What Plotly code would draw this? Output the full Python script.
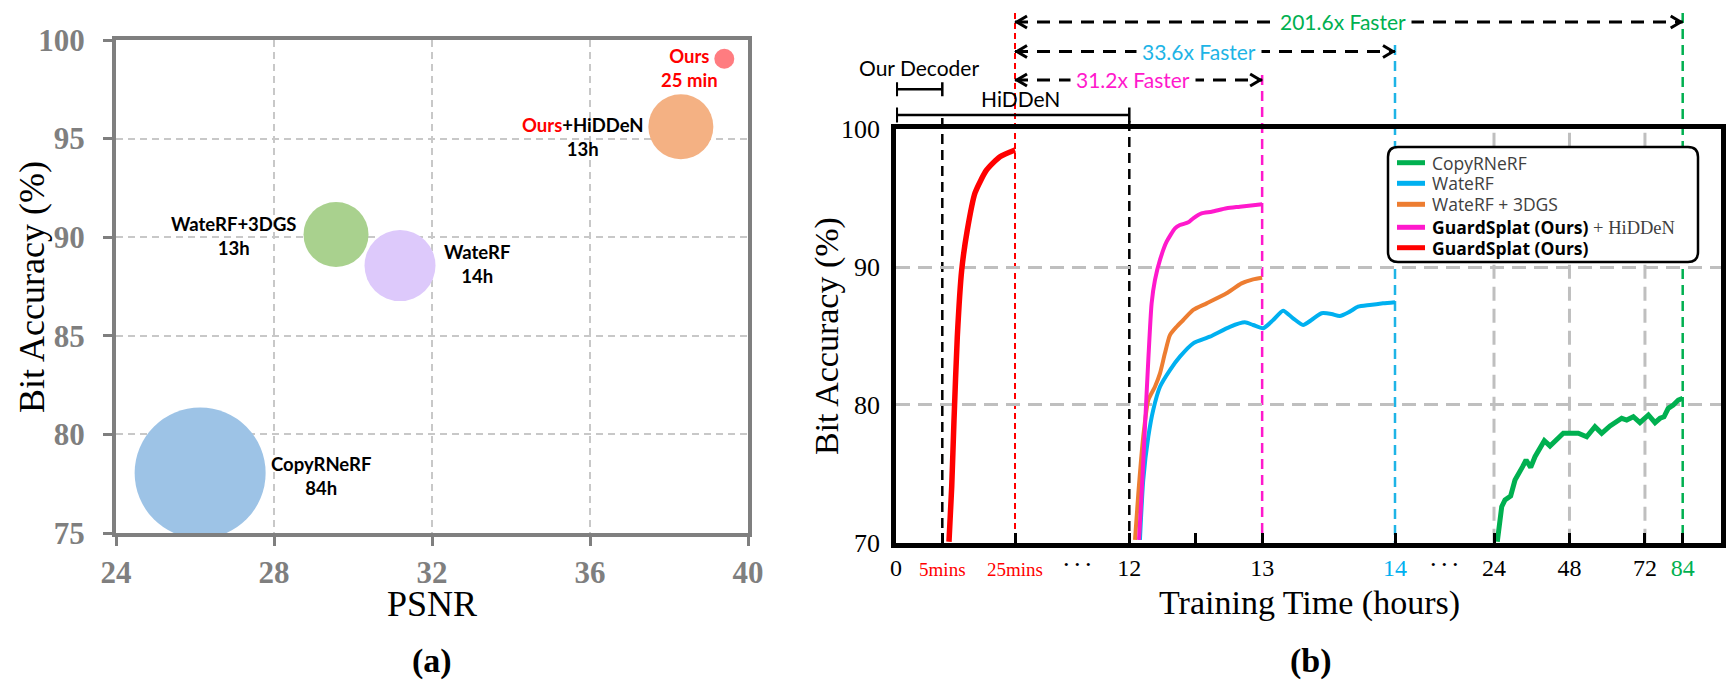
import numpy as np
import plotly.graph_objects as go

W, H = 1726, 695

# ============================ DATA: panel (a) ============================
A_NAMES = ["CopyRNeRF", "WateRF", "WateRF+3DGS", "Ours+HiDDeN", "Ours"]
A_PSNR = [26.13, 31.19, 29.57, 38.3, 39.4]
A_ACC = [78.04, 88.56, 90.14, 95.6, 99.05]
A_TIME = ["84h", "14h", "13h", "13h", "25 min"]
A_XTICKS = [24, 28, 32, 36, 40]
A_YTICKS = [75, 80, 85, 90, 95, 100]

# ============================ DATA: panel (b) (hours, %) =================
T_COPY = [25.05, 25.7, 26.45, 27.5, 29.3, 30.68, 31.7, 33.1, 34.2, 35.67, 37.04, 38.63,
          40.0, 41.8, 43.93, 46.04, 48.17, 50.8, 53.47, 56.1, 58.24, 60.9, 64.6, 66.2,
          68.3, 70.4, 73.1, 75.2, 76.8, 78.06, 79.4, 81.0, 82.6, 84.0]
ACC_COPY = [70.07, 71.4, 72.61, 73.1, 73.39, 74.55, 75.04, 75.52, 76.0, 75.47, 76.24, 76.92,
            77.4, 77.02, 77.45, 77.94, 77.94, 77.94, 77.69, 78.42, 77.94, 78.47, 79.03, 78.9,
            79.14, 78.71, 79.27, 78.71, 79.03, 79.14, 79.75, 79.99, 80.35, 80.48]

T_WRF = [12.08, 12.105, 12.143, 12.18, 12.231, 12.306, 12.381, 12.481, 12.607, 12.757, 12.87,
         12.932, 13.008, 13.083, 13.158, 13.233, 13.308, 13.371, 13.447, 13.522, 13.584,
         13.659, 13.722, 13.81, 13.91, 14.0]
ACC_WRF = [70.2, 74.55, 77.69, 79.63, 81.32, 82.53, 83.5, 84.47, 84.95, 85.67, 85.99,
           85.8, 85.56, 86.16, 86.84, 86.28, 85.8, 86.16, 86.65, 86.6, 86.45,
           86.77, 87.13, 87.25, 87.37, 87.45]

T_W3DGS = [12.043, 12.068, 12.105, 12.143, 12.193, 12.231, 12.268, 12.306, 12.356, 12.406,
           12.481, 12.582, 12.732, 12.845, 12.932, 13.0]
ACC_W3DGS = [70.2, 73.58, 77.69, 80.35, 81.32, 82.29, 83.74, 85.07, 85.67, 86.16,
             86.89, 87.37, 88.1, 88.82, 89.11, 89.23]

T_HID = [12.073, 12.093, 12.118, 12.143, 12.168, 12.193, 12.231, 12.281, 12.344, 12.381,
         12.444, 12.481, 12.544, 12.62, 12.732, 12.832, 13.0]
ACC_HID = [70.2, 73.58, 78.42, 83.26, 87.37, 89.06, 90.52, 91.84, 92.81, 93.05,
           93.25, 93.54, 93.9, 94.02, 94.27, 94.38, 94.56]

T_OURS_MIN = [6.84, 7.59, 8.22, 9.13, 10.34, 11.88, 14.0, 17.2, 20.87, 25.0]
ACC_OURS = [70.07, 74.06, 78.9, 84.95, 89.79, 92.69, 95.38, 97.05, 98.01, 98.5]

B_SERIES = ["CopyRNeRF", "WateRF", "WateRF + 3DGS", "GuardSplat (Ours) + HiDDeN", "GuardSplat (Ours)"]
B_TICK_HOURS = [0, 5 / 60, 25 / 60, 12, 12.5, 13, 14, 24, 48, 72, 84]
B_TICK_TEXT = ["0", "5mins", "25mins", "12", "", "13", "14", "24", "48", "72", "84"]
B_YTICKS = [70, 80, 90, 100]
B_GRID_HOURS = [24, 48, 72]
SPEEDUP_END_HOURS = [13, 14, 84]
SPEEDUP_TEXT = ["31.2x Faster", "33.6x Faster", "201.6x Faster"]
DECODER_END_HOURS = [5 / 60, 12]
DECODER_TEXT = ["Our Decoder", "HiDDeN"]

# ============================ STYLES =====================================
A_SIZES = [131, 71, 65, 65, 20]
A_COLORS = ["#9DC3E6", "#DDC9FB", "#A9D18E", "#F4B183", "#FF7C80"]
A_LABEL_SHIFT = [(121, -2.5), (77, 1.3), (-102, -1.1), (-98, -10.2), (-35, -9.3)]
B_COLORS = ["#00B050", "#00B0F0", "#ED7D31", "#FF19CC", "#FF0000"]
B_WIDTHS = [5, 4, 4, 4, 5.5]
TICK_COLORS = {"5mins": "#FF0000", "25mins": "#FF0000", "14": "#00B0F0", "84": "#00B050"}
SERIF = "Liberation Serif"
SANS = "Lato"
LEG_BOX = (1388, 147, 1698, 262)          # px: left, top, right, bottom
LEG_ROWS = [162.7, 183.3, 204.3, 227.3, 247.7]
LEG_LINE_X = (1397, 1425)
LEG_TEXT_X = 1430

# broken x axis of panel (b): hours -> axis units (piecewise linear)
AXIS_HOURS = [0, 5 / 60, 25 / 60, 12, 14, 24, 84]
AXIS_POS = [0, 46.3, 119, 233.3, 499, 598, 786.7]


def pos(t):
    return np.interp(t, AXIS_HOURS, AXIS_POS)


def pxx(x):
    return x / W


def pxy(y):
    return 1 - y / H


A_DOM_X = [pxx(116), pxx(748)]
A_DOM_Y = [pxy(533), pxy(40)]
B_DOM_X = [pxx(896), pxx(1721)]
B_DOM_Y = [pxy(542.7), pxy(129.3)]

fig = go.Figure()

# ------------------------------ panel (a) --------------------------------
for i in range(len(A_NAMES)):
    fig.add_trace(go.Scatter(
        x=[A_PSNR[i]], y=[A_ACC[i]], mode="markers", xaxis="x", yaxis="y", name=A_NAMES[i],
        marker=dict(size=A_SIZES[i], color=A_COLORS[i], line=dict(width=0), opacity=1),
        showlegend=False, hoverinfo="skip", cliponaxis=True))

annotations = []
for i, name in enumerate(A_NAMES):
    if name == "Ours":
        txt = "<span style='color:#FF0000'>%s<br>%s</span>" % (name, A_TIME[i])
    elif name.startswith("Ours+"):
        txt = "<span style='color:#FF0000'>Ours</span>%s<br>%s" % (name[4:], A_TIME[i])
    else:
        txt = "%s<br>%s" % (name, A_TIME[i])
    dx, dy = A_LABEL_SHIFT[i]
    annotations.append(dict(x=A_PSNR[i], y=A_ACC[i], xref="x", yref="y", text="<b>%s</b>" % txt,
                            showarrow=False, xshift=dx, yshift=dy, align="center",
                            xanchor="center", yanchor="middle",
                            font=dict(family=SANS, size=18.5, color="#000000")))

# ------------------------------ panel (b) --------------------------------
b_data = [(T_COPY, ACC_COPY), (T_WRF, ACC_WRF), (T_W3DGS, ACC_W3DGS), (T_HID, ACC_HID),
          ([m / 60 for m in T_OURS_MIN], ACC_OURS)]
for i, (t, a) in enumerate(b_data):
    fig.add_trace(go.Scatter(
        x=pos(np.array(t)), y=a, mode="lines", xaxis="x2", yaxis="y2", name=B_SERIES[i],
        line=dict(color=B_COLORS[i], width=B_WIDTHS[i],
                  shape="linear" if i == 0 else "spline", smoothing=0.6),
        showlegend=False, hoverinfo="skip"))

shapes = []
b_bottom = B_DOM_Y[0]

# vertical gray grid lines (24, 48, 72)
for t in B_GRID_HOURS:
    shapes.append(dict(type="line", xref="x2", yref="paper", x0=pos(t), x1=pos(t),
                       y0=B_DOM_Y[0], y1=B_DOM_Y[1], layer="between",
                       line=dict(color="#BFBFBF", width=3, dash="14px,8px")))

# coloured reference lines
ref_lines = [(25 / 60, "#FF0000", 13, 2, "6px,4px"),
             (SPEEDUP_END_HOURS[0], "#FF19CC", 75, 2.5, "10px,6px"),
             (SPEEDUP_END_HOURS[1], "#1EB4E6", 45, 2.5, "10px,6px"),
             (SPEEDUP_END_HOURS[2], "#00B050", 13, 2.5, "10px,6px"),
             (DECODER_END_HOURS[0], "#000000", 118, 2.5, "10px,6px"),
             (DECODER_END_HOURS[1], "#000000", 121, 2.5, "10px,6px")]
for t, c, top, w, d in ref_lines:
    shapes.append(dict(type="line", xref="x2", yref="paper", x0=pos(t), x1=pos(t),
                       y0=pxy(top), y1=b_bottom, layer="between",
                       line=dict(color=c, width=w, dash=d)))

# speed-up arrows
arrow_y = [80, 51.5, 22]
arrow_col = ["#FF19CC", "#1EB4E6", "#00B050"]
start = pos(25 / 60)
for k, t_end in enumerate(SPEEDUP_END_HOURS):
    yy = pxy(arrow_y[k])
    xe = pos(t_end)
    shapes.append(dict(type="line", xref="x2", yref="paper", x0=start, x1=xe, y0=yy, y1=yy,
                       line=dict(color="#000000", width=3, dash="13px,9px")))
    shapes.append(dict(type="path", xref="x2", yref="paper", xsizemode="pixel",
                       ysizemode="pixel", xanchor=start, yanchor=yy,
                       path="M 12,6 L 2,0 L 12,-6", line=dict(color="#000000", width=3)))
    shapes.append(dict(type="path", xref="x2", yref="paper", xsizemode="pixel",
                       ysizemode="pixel", xanchor=xe, yanchor=yy,
                       path="M -12,6 L -2,0 L -12,-6", line=dict(color="#000000", width=3)))
    annotations.append(dict(x=(start + xe) / 2, y=yy, xref="x2", yref="paper",
                            text=SPEEDUP_TEXT[k], showarrow=False, bgcolor="#FFFFFF",
                            borderpad=5, xshift=-6, xanchor="center", yanchor="middle",
                            font=dict(family=SANS, size=21, color=arrow_col[k])))

# decoder brackets
br_y = [89.3, 115]
br_h = [7, 7.5]
br_txt_y = [67, 99]
for k, t_end in enumerate(DECODER_END_HOURS):
    x0, x1 = pos(0), pos(t_end)
    ym = pxy(br_y[k])
    ya, yb = pxy(br_y[k] - br_h[k]), pxy(br_y[k] + br_h[k])
    path = "M %f,%f L %f,%f M %f,%f L %f,%f M %f,%f L %f,%f" % (
        x0 + 0.8, ya, x0 + 0.8, yb, x0, ym, x1, ym, x1, ya, x1, yb)
    shapes.append(dict(type="path", xref="x2", yref="paper", path=path,
                       line=dict(color="#000000", width=2.5)))
    annotations.append(dict(x=(x0 + x1) / 2, y=pxy(br_txt_y[k]), xref="x2", yref="paper",
                            text=DECODER_TEXT[k], showarrow=False, xshift=0 if k == 0 else 8,
                            xanchor="center", yanchor="middle",
                            font=dict(family=SANS, size=21, color="#000000")))

# "..." axis breaks
for ta, tb in [(25 / 60, 12), (14, 24)]:
    annotations.append(dict(x=(pos(ta) + pos(tb)) / 2 + (5 if ta < 1 else 0), y=pxy(564),
                            xref="x2", yref="paper", text="•  •  •", showarrow=False,
                            xanchor="center", yanchor="middle",
                            font=dict(family=SERIF, size=13, color="#000000")))

# ------------------------------ legend (rounded box) ---------------------
lx0, ly0, lx1, ly1 = LEG_BOX
r = 10
pts = [("M", lx0 + r, ly0), ("L", lx1 - r, ly0), ("Q", lx1, ly0, lx1, ly0 + r),
       ("L", lx1, ly1 - r), ("Q", lx1, ly1, lx1 - r, ly1), ("L", lx0 + r, ly1),
       ("Q", lx0, ly1, lx0, ly1 - r), ("L", lx0, ly0 + r), ("Q", lx0, ly0, lx0 + r, ly0)]
path = ""
for p in pts:
    cmd, coords = p[0], p[1:]
    path += cmd + " " + " ".join("%f,%f" % (pxx(coords[j]), pxy(coords[j + 1]))
                                 for j in range(0, len(coords), 2)) + " "
shapes.append(dict(type="path", xref="paper", yref="paper", path=path + "Z",
                   fillcolor="#FFFFFF", layer="above",
                   line=dict(color="#000000", width=2.5)))
for i, name in enumerate(B_SERIES):
    yy = pxy(LEG_ROWS[i])
    shapes.append(dict(type="line", xref="paper", yref="paper", x0=pxx(LEG_LINE_X[0]),
                       x1=pxx(LEG_LINE_X[1]), y0=yy, y1=yy, layer="above",
                       line=dict(color=B_COLORS[i], width=5)))
    if name.startswith("GuardSplat"):
        base = "GuardSplat (Ours)"
        txt = "<span style='color:#000000'><b>%s</b></span>" % base
        rest = name[len(base):]
        if rest:
            txt += "<span style='font-family:Liberation Serif;font-size:18.5px'>%s</span>" % rest
    else:
        txt = name
    annotations.append(dict(x=pxx(LEG_TEXT_X), y=yy, xref="paper", yref="paper", text=txt,
                            showarrow=False, xanchor="left", yanchor="middle",
                            font=dict(family="Open Sans", size=17.5, color="#404040")))

# axis titles / panel labels
titles = [
    (32, 287, "Bit Accuracy (%)", -90, 36),
    (432, 604, "PSNR", 0, 36),
    (432, 661, "<b>(a)</b>", 0, 34),
    (827, 336, "Bit Accuracy (%)", -90, 34),
    (1309, 603, "Training Time (hours)", 0, 34),
    (1311, 661, "<b>(b)</b>", 0, 34),
]
for x, y, txt, ang, sz in titles:
    annotations.append(dict(x=pxx(x), y=pxy(y), xref="paper", yref="paper", text=txt,
                            textangle=ang, showarrow=False, xanchor="center", yanchor="middle",
                            font=dict(family=SERIF, size=sz, color="#000000")))

tick_text = []
for s in B_TICK_TEXT:
    if s in TICK_COLORS:
        size = "font-size:19px;" if "min" in s else ""
        tick_text.append("<span style='color:%s;%s'>%s</span>" % (TICK_COLORS[s], size, s))
    else:
        tick_text.append(s)

gray = "#7F7F7F"
fig.update_layout(
    width=W, height=H, autosize=False,
    margin=dict(l=0, r=0, t=0, b=0, pad=0, autoexpand=False),
    paper_bgcolor="#FFFFFF", plot_bgcolor="#FFFFFF",
    xaxis=dict(domain=A_DOM_X, range=[24, 40], tickvals=A_XTICKS,
               ticktext=["<b>%d</b>" % v for v in A_XTICKS], showline=True,
               mirror=True, linecolor=gray, linewidth=4, ticks="outside", ticklen=9,
               tickwidth=3, tickcolor=gray, showgrid=True, gridcolor="#C8C8C8",
               gridwidth=1.5, griddash="7px,5px", zeroline=False, ticklabelstandoff=0,
               tickfont=dict(family=SERIF, size=31, color=gray), anchor="y"),
    yaxis=dict(domain=A_DOM_Y, range=[75, 100], tickvals=A_YTICKS,
               ticktext=["<b>%d</b>" % v for v in A_YTICKS], showline=True,
               mirror=True, linecolor=gray, linewidth=4, ticks="outside", ticklen=9,
               tickwidth=3, tickcolor=gray, showgrid=True, gridcolor="#C8C8C8",
               gridwidth=1.5, griddash="7px,5px", zeroline=False, ticklabelstandoff=12,
               tickfont=dict(family=SERIF, size=31, color=gray), anchor="x"),
    xaxis2=dict(domain=B_DOM_X, range=[0, 825], tickvals=list(pos(np.array(B_TICK_HOURS))),
                ticktext=tick_text, showline=True, mirror=True, linecolor="#000000",
                linewidth=4.5, ticks="inside", ticklen=10, tickwidth=3, tickcolor="#000000",
                showgrid=False, zeroline=False, ticklabelstandoff=0,
                tickfont=dict(family=SERIF, size=24, color="#000000"), anchor="y2"),
    yaxis2=dict(domain=B_DOM_Y, range=[70, 100], tickvals=B_YTICKS, showline=True,
                mirror=True, linecolor="#000000", linewidth=4.5, ticks="",
                showgrid=True, gridcolor="#BFBFBF", gridwidth=3, griddash="14px,8px",
                zeroline=False, ticklabelstandoff=6,
                tickfont=dict(family=SERIF, size=26, color="#000000"), anchor="x2"),
    showlegend=False,
    shapes=shapes, annotations=annotations,
)

fig.write_html("out.html", config={"displayModeBar": False},
               post_script="document.body.style.margin='0px';")
